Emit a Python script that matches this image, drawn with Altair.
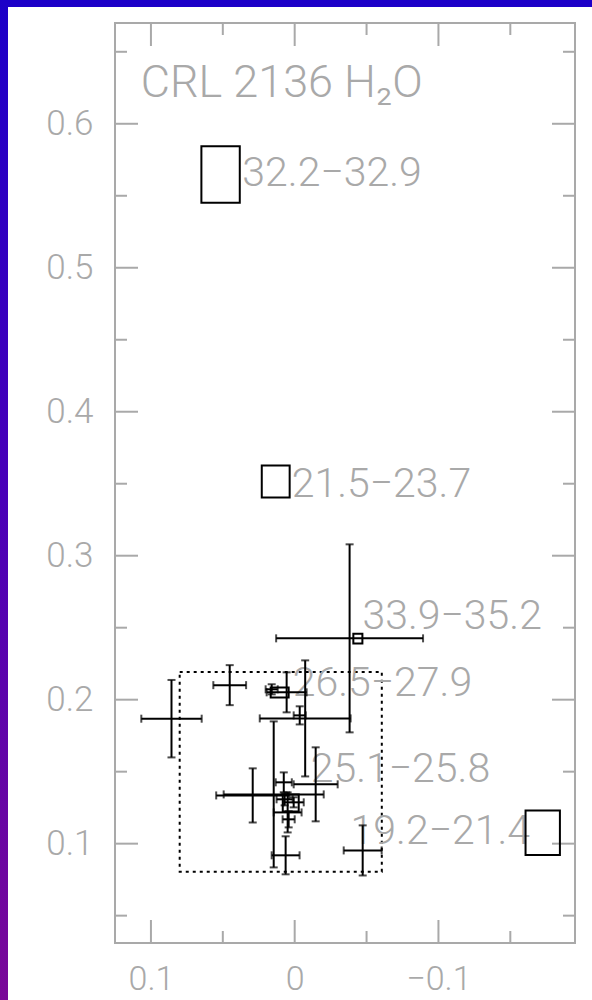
import altair as alt
import pandas as pd

# ---- data ----
# error-bar points (RA offset, Dec offset, half-widths)
pt_x  = [0.0857, 0.0452, 0.0160, 0.0056, -0.0073, -0.0035, 0.0292, 0.0146, 0.0076, -0.0146,
         0.0049, 0.0063, -0.0473, 0.0070, 0.0007, 0.0042, -0.0382]
pt_y  = [0.1868, 0.2101, 0.2072, 0.2051, 0.1870, 0.1891, 0.1335, 0.1342, 0.1426, 0.1412,
         0.1217, 0.0919, 0.0953, 0.1308, 0.1287, 0.1169, 0.2426]
pt_ex = [0.0210, 0.0114, 0.0042, 0.0139, 0.0316, 0.0042, 0.0254, 0.0348, 0.0056, 0.0153,
         0.0097, 0.0097, 0.0132, 0.0056, 0.0070, 0.0042, 0.0511]
pt_ey = [0.0269, 0.0139, 0.0035, 0.0139, 0.0403, 0.0063, 0.0188, 0.0507, 0.0069, 0.0257,
         0.0139, 0.0132, 0.0174, 0.0042, 0.0035, 0.0056, 0.0653]

# velocity-range boxes and their labels
box_label = ["32.2\u221232.9", "21.5\u221223.7", "33.9\u221235.2", "26.5\u221227.9", "25.1\u221225.8", "19.2\u221221.4"]
box_x1 = [0.0649, 0.0229, -0.0408, 0.0167, 0.0083, -0.1606]
box_x2 = [0.0382, 0.0035, -0.0471, 0.0042, -0.0028, -0.1845]
box_y1 = [0.5844, 0.3627, 0.2458, 0.2085, 0.1342, 0.1231]
box_y2 = [0.5451, 0.3405, 0.2391, 0.2015, 0.1224, 0.0921]
lab_x  = [0.0364, 0.0021, -0.0471, 0.0014, -0.0111, -0.0389]
lab_y  = [0.5567, 0.3405, 0.2488, 0.2025, 0.1426, 0.0996]

# dotted region
reg_x = [0.080, -0.0606]
reg_y = [0.0805, 0.2193]

title_text = "CRL 2136 H\u2082O"
title_pos = [0.1071, 0.6183]

x_major = [0.1, 0.0, -0.1]
x_minor = [0.05, -0.05, -0.15]
y_major = [0.1, 0.2, 0.3, 0.4, 0.5, 0.6]
y_minor = [0.05, 0.15, 0.25, 0.35, 0.45, 0.55, 0.65]

X_DOM = [-0.195, 0.125]
Y_DOM = [0.031, 0.670]
W, H = 460, 920
GRAY = "#a9a9a9"
FONT = "Roboto"

pts = pd.DataFrame({"x": pt_x, "y": pt_y, "ex": pt_ex, "ey": pt_ey})
pts["xlo"] = pts.x - pts.ex
pts["xhi"] = pts.x + pts.ex
pts["ylo"] = pts.y - pts.ey
pts["yhi"] = pts.y + pts.ey

boxes = pd.DataFrame({"label": box_label, "x1": box_x1, "x2": box_x2, "y1": box_y1, "y2": box_y2,
                      "lx": lab_x, "ly": lab_y})

xs = alt.Scale(domain=X_DOM, reverse=True, nice=False, zero=False)
ys = alt.Scale(domain=Y_DOM, nice=False, zero=False)

one = pd.DataFrame({"a": [0]})

bg = alt.Chart(one).mark_rect(
    fill=alt.Gradient(gradient="linear", x1=0, y1=0, x2=0, y2=1,
                      stops=[alt.GradientStop(color="#1c00c8", offset=0),
                             alt.GradientStop(color="#4a00b8", offset=0.5),
                             alt.GradientStop(color="#7a0898", offset=1)])
).encode(x=alt.value(-115), x2=alt.value(W + 17), y=alt.value(-23), y2=alt.value(H + 57))

white = alt.Chart(one).mark_rect(fill="white").encode(
    x=alt.value(-107), x2=alt.value(W + 17), y=alt.value(-16), y2=alt.value(H + 57))

x_axis = alt.Axis(values=x_major, ticks=False, domain=False, grid=False, title=None,
                  labelFont=FONT, labelFontWeight=300, labelFontSize=34, labelColor=GRAY,
                  labelPadding=19, labelFlush=False, zindex=1,
                  labelExpr="datum.value == 0 ? '0' : format(datum.value, '.1f')")
y_axis = alt.Axis(values=y_major, ticks=False, domain=False, grid=False, title=None,
                  labelFont=FONT, labelFontWeight=300, labelFontSize=35, labelColor=GRAY,
                  labelPadding=22, labelFlush=False, zindex=1, format=".1f")

# axes carrier (invisible points)
axes = alt.Chart(pts).mark_point(opacity=0).encode(
    x=alt.X("x:Q", scale=xs, axis=x_axis),
    y=alt.Y("y:Q", scale=ys, axis=y_axis))

def xticks(vals, length):
    d = pd.DataFrame({"v": vals})
    b = alt.Chart(d).mark_rule(color=GRAY, strokeWidth=2).encode(
        x=alt.X("v:Q", scale=xs), y=alt.value(H), y2=alt.value(H - length))
    t = alt.Chart(d).mark_rule(color=GRAY, strokeWidth=2).encode(
        x=alt.X("v:Q", scale=xs), y=alt.value(0), y2=alt.value(length))
    return [b, t]

def yticks(vals, length):
    d = pd.DataFrame({"v": vals})
    l = alt.Chart(d).mark_rule(color=GRAY, strokeWidth=2).encode(
        y=alt.Y("v:Q", scale=ys), x=alt.value(0), x2=alt.value(length))
    r = alt.Chart(d).mark_rule(color=GRAY, strokeWidth=2).encode(
        y=alt.Y("v:Q", scale=ys), x=alt.value(W), x2=alt.value(W - length))
    return [l, r]

frame = alt.Chart(one).mark_rect(fillOpacity=0, fill="white", stroke=GRAY, strokeWidth=2).encode(
    x=alt.value(0), x2=alt.value(W), y=alt.value(0), y2=alt.value(H))

reg = pd.DataFrame({"x1": [reg_x[0]], "x2": [reg_x[1]], "y1": [reg_y[0]], "y2": [reg_y[1]]})
region = alt.Chart(reg).mark_rect(fillOpacity=0, fill="white", stroke="black", strokeWidth=2,
                                  strokeDash=[3, 4]).encode(
    x=alt.X("x1:Q", scale=xs), x2="x2:Q", y=alt.Y("y1:Q", scale=ys), y2="y2:Q")

hbar = alt.Chart(pts).mark_rule(color="black", strokeWidth=2).encode(
    x=alt.X("xlo:Q", scale=xs), x2="xhi:Q", y=alt.Y("y:Q", scale=ys))
vbar = alt.Chart(pts).mark_rule(color="black", strokeWidth=2).encode(
    x=alt.X("x:Q", scale=xs), y=alt.Y("ylo:Q", scale=ys), y2="yhi:Q")

def cap(xf, yf, orient):
    return alt.Chart(pts).mark_tick(color="black", thickness=2, size=8, orient=orient).encode(
        x=alt.X(f"{xf}:Q", scale=xs), y=alt.Y(f"{yf}:Q", scale=ys))

caps = [cap("xlo", "y", "vertical"), cap("xhi", "y", "vertical"),
        cap("x", "ylo", "horizontal"), cap("x", "yhi", "horizontal")]

box_marks = alt.Chart(boxes).mark_rect(fillOpacity=0, fill="white", stroke="black", strokeWidth=2).encode(
    x=alt.X("x1:Q", scale=xs), x2="x2:Q", y=alt.Y("y1:Q", scale=ys), y2="y2:Q")

box_text = alt.Chart(boxes).mark_text(align="left", baseline="alphabetic", font=FONT, fontWeight=300,
                                      fontSize=41, color=GRAY).encode(
    x=alt.X("lx:Q", scale=xs), y=alt.Y("ly:Q", scale=ys), text="label:N")

tdf = pd.DataFrame({"x": [title_pos[0]], "y": [title_pos[1]], "t": [title_text]})
title = alt.Chart(tdf).mark_text(align="left", baseline="alphabetic", font=FONT, fontWeight=300,
                                 fontSize=45, color=GRAY).encode(
    x=alt.X("x:Q", scale=xs), y=alt.Y("y:Q", scale=ys), text="t:N")

layers = [bg, white, axes] + xticks(x_major, 23) + xticks(x_minor, 12) + \
         yticks(y_major, 23) + yticks(y_minor, 12) + \
         [frame, region, box_text, title, hbar, vbar] + caps + [box_marks]

chart = alt.layer(*layers).properties(
    width=W, height=H,
    padding={"left": 115, "top": 23, "right": 17, "bottom": 57},
    autosize=alt.AutoSizeParams(type="none"),
    background="white",
).configure_view(strokeWidth=0)

chart.save("out.html", embed_options={"renderer": "svg", "actions": False})
